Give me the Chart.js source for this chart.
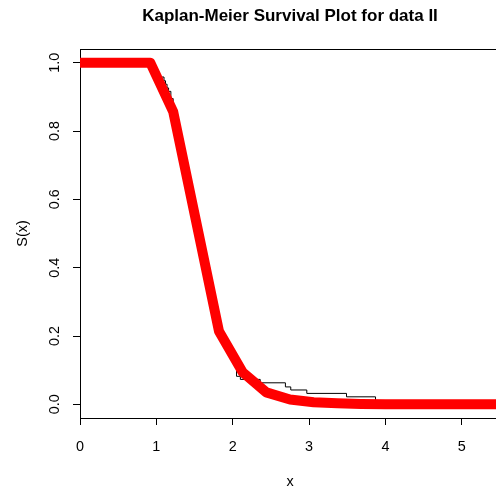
<!DOCTYPE html>
<html>
<head>
<meta charset="utf-8">
<script src="https://cdn.jsdelivr.net/npm/chart.js@4"></script>
<style>
  html, body { margin: 0; padding: 0; background: #fff; }
  #wrap { width: 496px; height: 493px; overflow: hidden; position: relative; }
  canvas { display: block; }
</style>
</head>
<body>
<div id="wrap"><canvas id="km" width="504" height="493"></canvas></div>
<script>
// fitted survival curve (red)
const fitX = [0, 0.92, 1.22, 1.52, 1.82, 2.13, 2.44, 2.75, 3.06, 3.37, 3.68, 4.0, 5.5];
const fitS = [1, 1, 0.857, 0.536, 0.214, 0.094, 0.035, 0.014, 0.006, 0.003, 0.001, 0, 0];

// Kaplan-Meier estimate (thin black step line)
const kmX = [0, 0.95, 0.98, 1.0, 1.03, 1.1, 1.12, 1.14, 1.16, 1.19, 1.22, 1.26, 1.3, 1.35, 1.4, 1.45, 1.5,
             1.55, 1.6, 1.65, 1.7, 1.75, 1.8, 1.85, 1.9, 1.95, 2.0, 2.05, 2.1, 2.36, 2.69, 2.76, 2.97,
             3.49, 3.87, 5.5];
const kmS = [1, 0.989, 0.979, 0.968, 0.958, 0.947, 0.937, 0.926, 0.916, 0.895, 0.86, 0.82, 0.77, 0.72,
             0.66, 0.61, 0.56, 0.51, 0.45, 0.4, 0.34, 0.29, 0.23, 0.19, 0.17, 0.14, 0.12, 0.082, 0.073,
             0.063, 0.051, 0.042, 0.032, 0.022, 0, 0];

const xTicks = [0, 1, 2, 3, 4, 5];
const yTicks = [0, 0.2, 0.4, 0.6, 0.8, 1.0];
const yTickLabels = ['0.0', '0.2', '0.4', '0.6', '0.8', '1.0'];

const titleText = 'Kaplan-Meier Survival Plot for data II';
const xLabel = 'x';
const yLabel = 'S(x)';

const FONT = '"Liberation Sans", Arial, sans-serif';

// textos y marco del grafico (estilo R)
const rTexts = {
    id: 'rTexts',
    afterDraw(chart) {
        const ctx = chart.ctx;
        const area = chart.chartArea;
        const xs = chart.scales.x;
        const ys = chart.scales.y;
        ctx.save();

        // caja
        ctx.strokeStyle = '#000';
        ctx.lineWidth = 1;
        ctx.beginPath();
        ctx.moveTo(area.left, area.top + 0.5);
        ctx.lineTo(area.right, area.top + 0.5);
        ctx.moveTo(area.right - 0.5, area.top);
        ctx.lineTo(area.right - 0.5, area.bottom);
        ctx.stroke();

        ctx.fillStyle = '#000';
        ctx.textAlign = 'center';
        ctx.textBaseline = 'alphabetic';

        // titulo
        ctx.font = 'bold 17px ' + FONT;
        const cx = (area.left + area.right) / 2;
        ctx.fillText(titleText, cx, 21);

        // etiquetas eje X
        ctx.font = '14.4px ' + FONT;
        xTicks.forEach(function(v) {
            ctx.fillText(String(v), xs.getPixelForValue(v), 450.5);
        });
        ctx.fillText(xLabel, cx, 486);

        // etiquetas eje Y (rotadas)
        yTicks.forEach(function(v, i) {
            ctx.save();
            ctx.translate(59, ys.getPixelForValue(v));
            ctx.rotate(-Math.PI / 2);
            ctx.fillText(yTickLabels[i], 0, 0);
            ctx.restore();
        });
        ctx.save();
        ctx.translate(26.5, (area.top + area.bottom) / 2);
        ctx.rotate(-Math.PI / 2);
        ctx.fillText(yLabel, 0, 0);
        ctx.restore();

        ctx.restore();
    }
};

const ctx = document.getElementById('km').getContext('2d');
new Chart(ctx, {
    type: 'line',
    data: {
        datasets: [{
            label: 'fit',
            data: fitX.map(function(x, i) { return { x: x, y: fitS[i] }; }),
            borderColor: '#ff0000',
            borderWidth: 10,
            borderJoinStyle: 'round',
            borderCapStyle: 'round',
            pointRadius: 0,
            tension: 0,
            clip: 0
        }, {
            label: 'KM',
            data: kmX.map(function(x, i) { return { x: x, y: kmS[i] }; }),
            borderColor: '#000000',
            borderWidth: 1,
            stepped: 'before',
            pointRadius: 0,
            clip: 0
        }]
    },
    options: {
        responsive: false,
        animation: false,
        events: [],
        layout: { padding: { top: 49, right: 4, left: 0, bottom: 0 } },
        plugins: {
            legend: { display: false },
            title: { display: false },
            tooltip: { enabled: false }
        },
        scales: {
            x: {
                type: 'linear',
                min: 0,
                max: 5.5,
                afterBuildTicks: function(scale) {
                    scale.ticks = xTicks.map(function(v) { return { value: v }; });
                },
                afterFit: function(scale) { scale.height = 75; },
                ticks: { display: false },
                grid: { drawOnChartArea: false, drawTicks: true, tickLength: 7, color: '#000', lineWidth: 1 },
                border: { display: true, color: '#000', width: 1 }
            },
            y: {
                type: 'linear',
                min: -0.04,
                max: 1.04,
                afterBuildTicks: function(scale) {
                    scale.ticks = yTicks.map(function(v) { return { value: v }; });
                },
                afterFit: function(scale) { scale.width = 80; },
                ticks: { display: false },
                grid: { drawOnChartArea: false, drawTicks: true, tickLength: 7, color: '#000', lineWidth: 1 },
                border: { display: true, color: '#000', width: 1 }
            }
        }
    },
    plugins: [rTexts]
});
</script>
</body>
</html>
